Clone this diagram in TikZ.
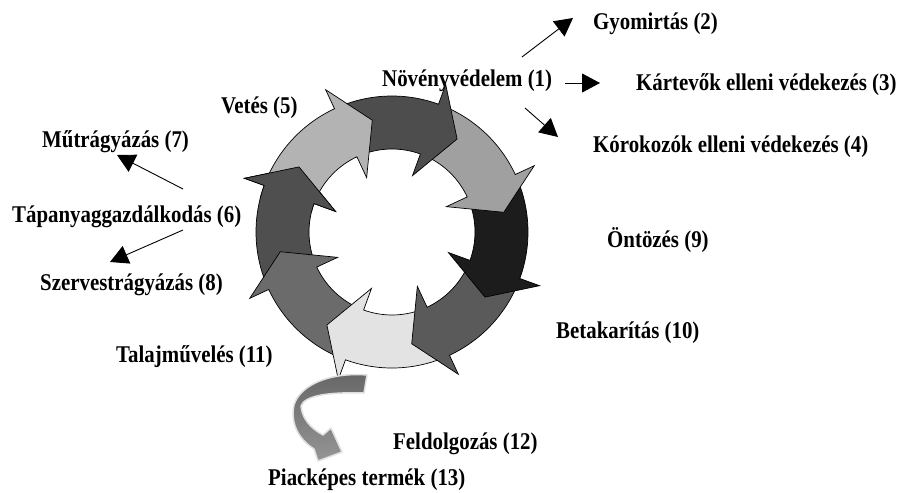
\documentclass[tikz,border=0pt]{standalone}
\usepackage{fontspec}
\usetikzlibrary{arrows.meta}
\newfontfamily\labfont{Liberation Serif}[FakeStretch=0.87]
\definecolor{cH}{HTML}{B3B3B3}
\definecolor{cA}{HTML}{4D4D4D}
\definecolor{cB}{HTML}{A0A0A0}
\definecolor{cC}{HTML}{1C1C1C}
\definecolor{cD}{HTML}{5A5A5A}
\definecolor{cE}{HTML}{E3E3E3}
\definecolor{cF}{HTML}{6B6B6B}
\definecolor{cG}{HTML}{4F4F4F}
\definecolor{swTop}{HTML}{666666}
\definecolor{swBot}{HTML}{959595}
\begin{document}
\begin{tikzpicture}[x=1pt,y=-1pt,
  lab/.style={font=\labfont\bfseries\fontsize{24}{28}\selectfont, anchor=base west, inner sep=0pt},
  ringline/.style={draw=black, line width=0.7pt, line join=miter},
  conn/.style={draw=black, line width=0.9pt, -{Triangle[length=18pt,width=19pt]}}]
\useasboundingbox (0,0) rectangle (903,493);
\fill[white] (0,0) rectangle (903,493);

% ---- ring of eight curved arrows ----
\begin{scope}[shift={(392,232)}, yscale=-1]
  \foreach \b/\c in {-200/cG, -155/cF, -110/cE, -65/cD, -20/cC, 25/cB, 70/cA, 115/cH}{
    \draw[ringline, fill=\c]
      ({\b+42}:136) arc[start angle={\b+42}, end angle=\b, radius=136]
      -- (\b:157) -- ({\b-15}:113.5) -- (\b:60) -- (\b:83)
      arc[start angle=\b, end angle={\b+42}, radius=83]
      -- ({\b+33}:109.5) -- cycle;
  }
  % head of the last arrow over the tail of the first
  \fill[cG] (-194:136) arc[start angle=-194, end angle=-200, radius=136]
      -- (-200:157) -- (-215:113.5) -- (-200:60) -- (-200:83)
      arc[start angle=-200, end angle=-194, radius=83] -- cycle;
  \draw[ringline] (-194:136) arc[start angle=-194, end angle=-200, radius=136]
      -- (-200:157) -- (-215:113.5) -- (-200:60) -- (-200:83)
      arc[start angle=-200, end angle=-194, radius=83];
\end{scope}

% ---- swept arrow below the ring ----
\shade[top color=swTop, bottom color=swBot, draw=black!12, line width=1.5pt, line join=round]
  (367,375) .. controls (330,372) and (300,385) .. (294,405)
  .. controls (290,425) and (300,440) .. (314,449)
  -- (318,461) -- (342,452) -- (331,428) -- (323,435)
  .. controls (310,428) and (302,418) .. (301,406)
  .. controls (305,395) and (330,392) .. (364,393) -- cycle;

% ---- labels ----
\node[lab] (n2)  at (593,29)  {Gyomirtás (2)};
\node[lab] (n1)  at (382,86)  {Növényvédelem (1)};
\node[lab] (n3)  at (636,90)  {Kártevők elleni védekezés (3)};
\node[lab] (n4)  at (593,152) {Kórokozók elleni védekezés (4)};
\node[lab] (n5)  at (221,113) {Vetés (5)};
\node[lab] (n7)  at (42,147)  {Műtrágyázás (7)};
\node[lab] (n6)  at (12,222)  {Tápanyaggazdálkodás (6)};
\node[lab] (n8)  at (40,290)  {Szervestrágyázás (8)};
\node[lab] (n9)  at (607,247) {Öntözés (9)};
\node[lab] (n10) at (556,338) {Betakarítás (10)};
\node[lab] (n11) at (116,362) {Talajművelés (11)};
\node[lab] (n12) at (393,449) {Feldolgozás (12)};
\node[lab] (n13) at (268,485) {Piacképes termék (13)};

% ---- connectors ----
\coordinate (c1s) at (522,57);  \coordinate (c1e) at (573,18);
\coordinate (c2s) at (565,83);  \coordinate (c2e) at (600,83);
\coordinate (c3s) at (525,108); \coordinate (c3e) at (558,137);
\coordinate (c4s) at (183,189); \coordinate (c4e) at (117,155);
\coordinate (c5s) at (183,230); \coordinate (c5e) at (110,262);
\draw[conn] (c1s) -- (c1e);
\draw[conn] (c2s) -- (c2e);
\draw[conn] (c3s) -- (c3e);
\draw[conn] (c4s) -- (c4e);
\draw[conn] (c5s) -- (c5e);
\end{tikzpicture}
\end{document}
